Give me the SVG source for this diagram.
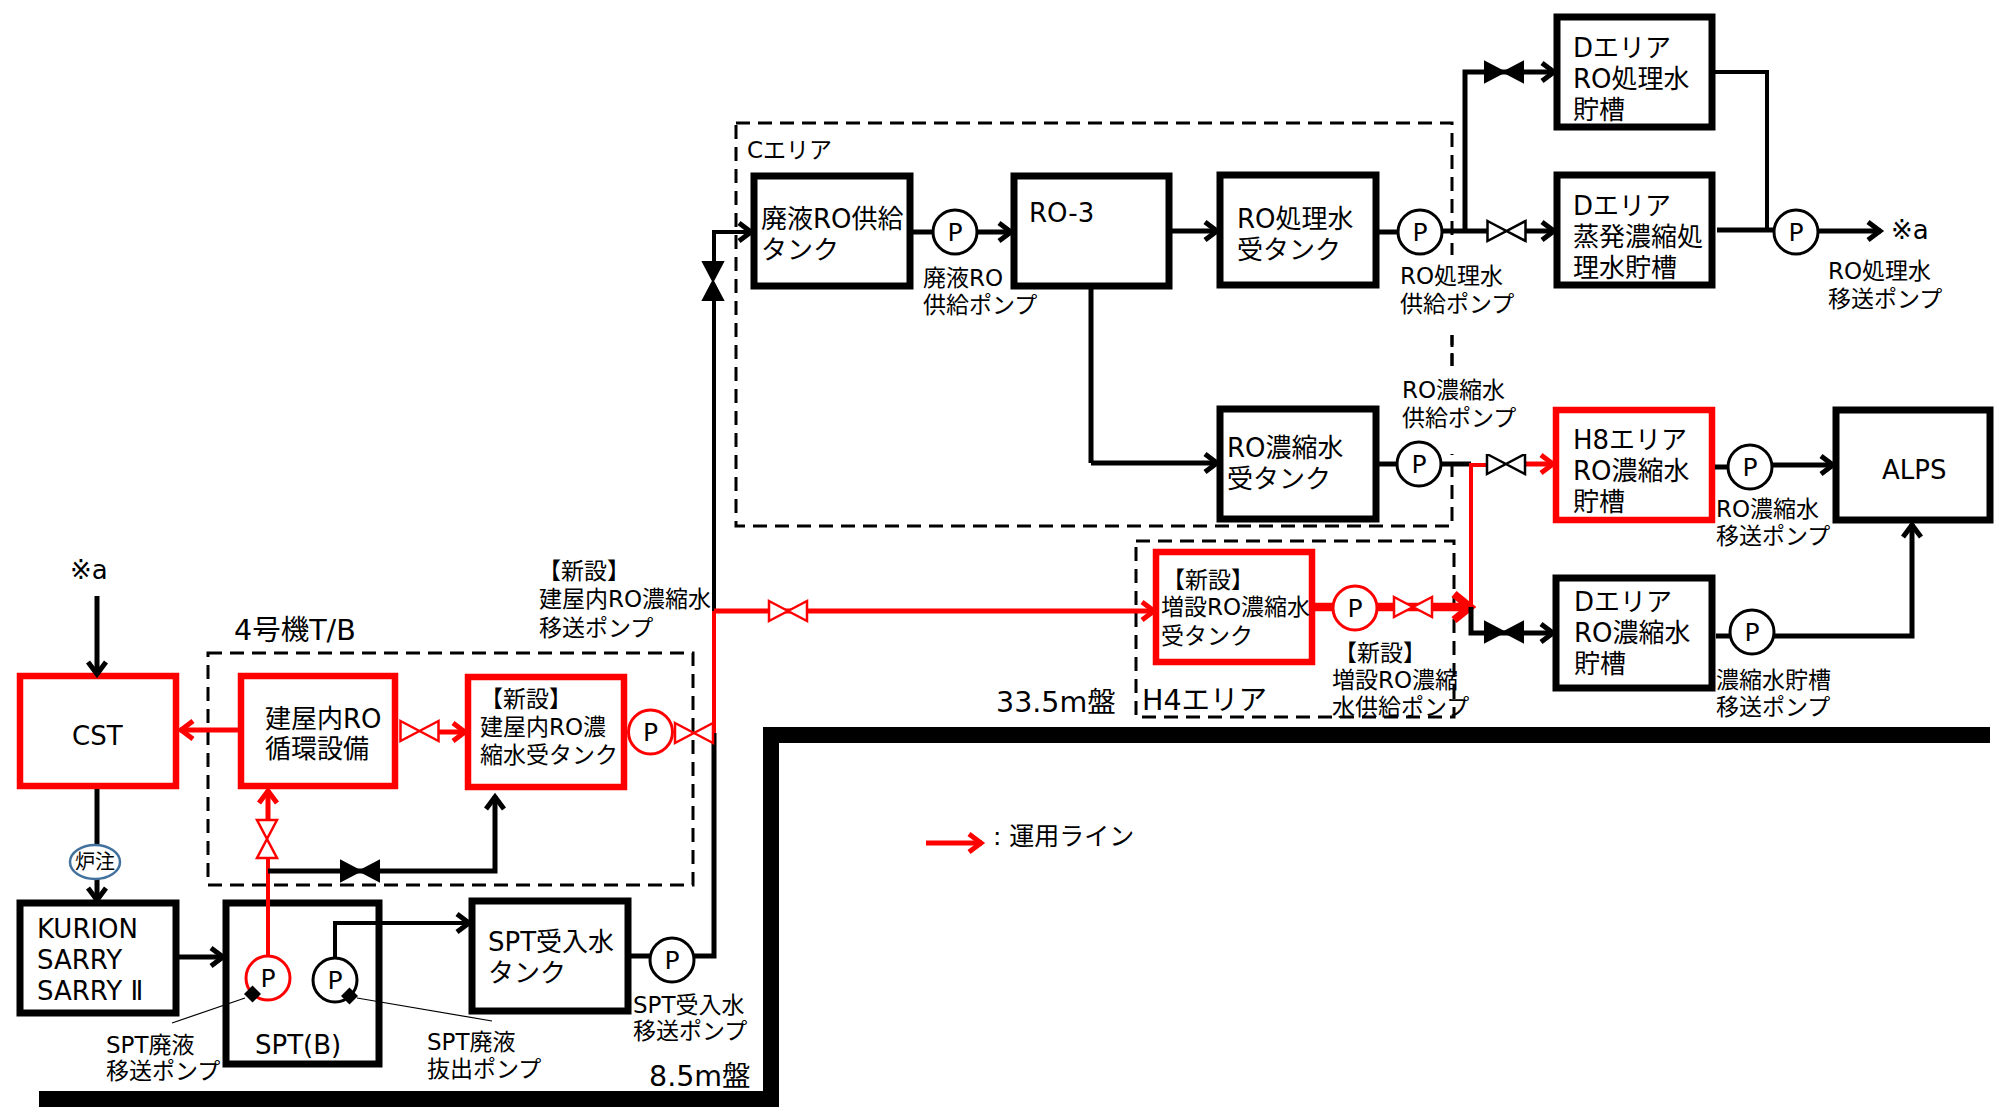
<svg xmlns="http://www.w3.org/2000/svg" width="1999" height="1112" viewBox="0 0 1999 1112">
<style>
text{font-family:"DejaVu Sans","Noto Sans CJK JP",sans-serif;fill:#000;}
.t26{font-size:26px}.t23{font-size:23px}.t28{font-size:28.5px}.t25{font-size:25px}
.p{font-size:25px;text-anchor:middle}
.box{fill:#fff;stroke:#000;stroke-width:7}
.rbox{fill:#fff;stroke:#f00;stroke-width:6.5}
.dash{fill:none;stroke:#000;stroke-width:3;stroke-dasharray:14 8}
.k{fill:none;stroke:#000;stroke-width:5}
.k4{fill:none;stroke:#000;stroke-width:4}
.r{fill:none;stroke:#f00;stroke-width:5}
.r3{fill:none;stroke:#f00;stroke-width:4}
.rt{fill:none;stroke:#f00;stroke-width:8.5}
.ah{marker-end:url(#ak)}
.ahr{marker-end:url(#ar)}
.ahR{marker-end:url(#aR)}
.vk{fill:#000;stroke:#000;stroke-width:2}
.vo{fill:#fff;stroke:#000;stroke-width:2.5}
.vr{fill:#fff;stroke:#f00;stroke-width:2.5}
.pk{fill:#fff;stroke:#000;stroke-width:3}
.pr{fill:#fff;stroke:#f00;stroke-width:3}
.lead{stroke:#000;stroke-width:1.2;fill:none}
</style>
<defs>
<marker id="ak" markerUnits="userSpaceOnUse" markerWidth="30" markerHeight="30" refX="22" refY="15" orient="auto"><path d="M9,6 L21,15 L9,24" fill="none" stroke="#000" stroke-width="5"/></marker>
<marker id="ar" markerUnits="userSpaceOnUse" markerWidth="30" markerHeight="30" refX="22" refY="15" orient="auto"><path d="M9,6 L21,15 L9,24" fill="none" stroke="#f00" stroke-width="5"/></marker>
<marker id="aR" markerUnits="userSpaceOnUse" markerWidth="40" markerHeight="40" refX="32" refY="20" orient="auto"><path d="M14,7 L30,20 L14,33" fill="none" stroke="#f00" stroke-width="8"/></marker>
<path id="valve" d="M-19,-10 L19,10 V-10 L-19,10 Z"/>
</defs>
<rect width="1999" height="1112" fill="#fff"/>

<path id="ground" d="M39,1099 H771 V735 H1990" fill="none" stroke="#000" stroke-width="16"/>

<g id="area-c"><rect class="dash" x="736" y="123" width="716" height="403"/><text class="t23" x="747" y="158">Cエリア</text></g>
<g id="area-h4"><rect class="dash" x="1136" y="541" width="318" height="176"/><text class="t28" x="1142" y="710">H4エリア</text></g>
<g id="area-4tb"><rect class="dash" x="208" y="653" width="485" height="232"/><text class="t28" x="234" y="640">4号機T/B</text></g>

<g id="cst"><rect class="rbox" x="20" y="676" width="156" height="110"/><text class="t26" x="72" y="745">CST</text></g>
<g id="ro-circ"><rect class="rbox" x="241" y="676" width="154" height="110"/><text class="t26" x="265" y="728">建屋内RO</text><text class="t26" x="265" y="758">循環設備</text></g>
<g id="ro-tank-new"><rect class="rbox" x="468" y="677" width="156" height="110"/><text class="t23" x="480" y="707">【新設】</text><text class="t23" x="480" y="735">建屋内RO濃</text><text class="t23" x="480" y="763">縮水受タンク</text></g>
<g id="kurion"><rect class="box" x="20" y="903" width="156" height="110"/><text class="t26" x="37" y="938">KURION</text><text class="t26" x="37" y="969">SARRY</text><text class="t26" x="37" y="1000">SARRY Ⅱ</text></g>
<g id="spt-b"><rect class="box" x="226" y="903" width="153" height="161"/><text class="t26" x="255" y="1054">SPT(B)</text></g>
<g id="spt-tank"><rect class="box" x="472" y="901" width="156" height="110"/><text class="t26" x="488" y="951">SPT受入水</text><text class="t26" x="488" y="982">タンク</text></g>
<g id="waste-ro-tank"><rect class="box" x="754" y="176" width="156" height="110"/><text class="t26" x="761" y="228">廃液RO供給</text><text class="t26" x="761" y="259">タンク</text></g>
<g id="ro-3"><rect class="box" x="1014" y="176" width="155" height="110"/><text class="t26" x="1029" y="222">RO-3</text></g>
<g id="ro-treated-tank"><rect class="box" x="1220" y="175" width="156" height="110"/><text class="t26" x="1237" y="228">RO処理水</text><text class="t26" x="1237" y="259">受タンク</text></g>
<g id="ro-conc-tank"><rect class="box" x="1220" y="409" width="156" height="110"/><text class="t26" x="1227" y="457">RO濃縮水</text><text class="t26" x="1227" y="488">受タンク</text></g>
<g id="d-ro"><rect class="box" x="1557" y="17" width="155" height="110"/><text class="t26" x="1573" y="57">Dエリア</text><text class="t26" x="1573" y="88">RO処理水</text><text class="t26" x="1573" y="119">貯槽</text></g>
<g id="d-evap"><rect class="box" x="1557" y="175" width="155" height="110"/><text class="t26" x="1573" y="215">Dエリア</text><text class="t26" x="1573" y="246">蒸発濃縮処</text><text class="t26" x="1573" y="277">理水貯槽</text></g>
<g id="h8"><rect class="rbox" x="1556" y="410" width="156" height="110"/><text class="t26" x="1573" y="449">H8エリア</text><text class="t26" x="1573" y="480">RO濃縮水</text><text class="t26" x="1573" y="511">貯槽</text></g>
<g id="alps"><rect class="box" x="1836" y="410" width="154" height="110"/><text class="t26" x="1882" y="479">ALPS</text></g>
<g id="d-conc"><rect class="box" x="1556" y="578" width="156" height="110"/><text class="t26" x="1574" y="611">Dエリア</text><text class="t26" x="1574" y="642">RO濃縮水</text><text class="t26" x="1574" y="673">貯槽</text></g>
<g id="h4-tank"><rect class="rbox" x="1156" y="552" width="156" height="110"/><text class="t23" x="1162" y="588">【新設】</text><text class="t23" x="1161" y="615">増設RO濃縮水</text><text class="t23" x="1161" y="644">受タンク</text></g>

<g id="connectors">
<path class="k ah" d="M97,596 V675"/>
<path class="k" d="M97,789 V845"/>
<path class="k ah" d="M97,878 V901"/>
<path class="k ah" d="M179,957 H224"/>
<path class="r3" d="M268,957 V857"/>
<path class="r ahr" d="M268,821 V790"/>
<path class="k ah" d="M268,871 H495 V796"/>
<path class="k4 ah" d="M335,958 V923 H470"/>
<path class="r ahr" d="M238,730 H180"/>
<path class="r ahr" d="M439,732 H466"/>
<path class="k" d="M631,956 H650 M694,956 H714 V733"/>
<path class="r3" d="M714,733 V611"/>
<path class="k4" d="M714,611 V300"/>
<path class="k4 ah" d="M714,262 V232 H752"/>
<path class="r ahr" d="M714,611 H1155"/>
<path class="k" d="M912,232 H933"/>
<path class="k ah" d="M977,232 H1012"/>
<path class="k ah" d="M1172,231 H1218"/>
<path class="k" d="M1378,232 H1398"/>
<path class="k" d="M1442,231 H1488"/>
<path class="k ah" d="M1525,231 H1555"/>
<path class="k ah" d="M1465,231 V72 H1555"/>
<path class="k" d="M1091,288 V463"/>
<path class="k ah" d="M1091,463 H1218"/>
<path class="k4" d="M1715,72 H1767 V231"/>
<path class="k" d="M1717,230 H1773"/>
<path class="k ah" d="M1819,231 H1881"/>
<path class="k" d="M1378,464 H1397"/>
<path class="k" d="M1441,464 H1471"/>
<path class="r3" d="M1471,465 H1488 M1471,463 V607"/>
<path class="r ahr" d="M1525,464 H1554"/>
<path class="rt" d="M1315,607 H1333"/>
<path class="rt ahR" d="M1377,607 H1472"/>
<path class="k ah" d="M1471,607 V633 H1554"/>
<path class="k" d="M1715,467 H1728"/>
<path class="k ah" d="M1772,465 H1834"/>
<path class="k" d="M1716,636 H1730"/>
<path class="k ah" d="M1774,636 H1912 V524"/>
<path class="lead" d="M245,998 L172,1023"/>
<path class="lead" d="M357,998 L492,1021"/>
<path d="M926,843 H982" class="r ahr"/>
</g>

<g id="valves">
<use href="#valve" class="vr" transform="translate(419.5,731)"/>
<use href="#valve" class="vr" transform="translate(694,733)"/>
<use href="#valve" class="vr" transform="translate(267,839) rotate(90)"/>
<use href="#valve" class="vk" transform="translate(360,871)"/>
<use href="#valve" class="vk" transform="translate(713,281) rotate(90)"/>
<use href="#valve" class="vr" transform="translate(788,611)"/>
<use href="#valve" class="vk" transform="translate(1504,72)"/>
<use href="#valve" class="vo" transform="translate(1506.5,231)"/>
<use href="#valve" class="vo" transform="translate(1506,464)"/>
<use href="#valve" class="vr" transform="translate(1413,607)"/>
<use href="#valve" class="vk" transform="translate(1504,632)"/>
</g>

<g id="label-ro-treated-pump"><rect x="1445" y="255" width="90" height="80" fill="#fff"/><path d="M1452,335 V366" fill="none" stroke="#000" stroke-width="3" stroke-dasharray="12 7"/><text class="t23" x="1400" y="284">RO処理水</text><text class="t23" x="1400" y="312">供給ポンプ</text></g>
<g id="label-ro-conc-pump"><rect x="1445" y="366" width="90" height="88" fill="#fff"/><text class="t23" x="1402" y="398">RO濃縮水</text><text class="t23" x="1402" y="426">供給ポンプ</text></g>

<g id="pump-waste-ro"><circle class="pk" cx="955" cy="232" r="22"/><text class="p" x="955" y="241">P</text></g>
<g id="pump-ro-treated"><circle class="pk" cx="1420" cy="232" r="22"/><text class="p" x="1420" y="241">P</text></g>
<g id="pump-ro-conc"><circle class="pk" cx="1419" cy="464" r="22"/><text class="p" x="1419" y="473">P</text></g>
<g id="pump-ro-transfer"><circle class="pk" cx="1796" cy="232" r="22"/><text class="p" x="1796" y="241">P</text></g>
<g id="pump-h8"><circle class="pk" cx="1750" cy="467" r="22"/><text class="p" x="1750" y="476">P</text></g>
<g id="pump-d-conc"><circle class="pk" cx="1752" cy="632" r="22"/><text class="p" x="1752" y="641">P</text></g>
<g id="pump-h4"><circle class="pr" cx="1355" cy="608" r="22"/><text class="p" x="1355" y="617">P</text></g>
<g id="pump-ro-new"><circle class="pr" cx="650.5" cy="732" r="22"/><text class="p" x="650.5" y="741">P</text></g>
<g id="pump-spt-recv"><circle class="pk" cx="672" cy="960" r="22"/><text class="p" x="672" y="969">P</text></g>
<g id="pump-spt-red"><circle class="pr" cx="268" cy="978" r="22"/><text class="p" x="268" y="987">P</text></g>
<g id="pump-spt-black"><circle class="pk" cx="335" cy="980" r="22"/><text class="p" x="335" y="989">P</text></g>
<rect x="246.5" y="988" width="12" height="12" fill="#000" transform="rotate(45 252.5 994)"/>
<rect x="343.5" y="990" width="12" height="12" fill="#000" transform="rotate(45 349.5 996)"/>

<g id="core-injection"><ellipse cx="95" cy="862" rx="25" ry="17" fill="#fff" stroke="#41719c" stroke-width="2.5"/><text x="95" y="869" font-size="20" text-anchor="middle">炉注</text></g>

<g id="labels">
<text class="t26" x="70" y="579">※a</text>
<text class="t26" x="1891" y="239">※a</text>
<text class="t23" x="538" y="579">【新設】</text>
<text class="t23" x="539" y="607">建屋内RO濃縮水</text>
<text class="t23" x="539" y="636">移送ポンプ</text>
<text class="t23" x="923" y="286">廃液RO</text>
<text class="t23" x="923" y="313">供給ポンプ</text>
<text class="t23" x="1828" y="279">RO処理水</text>
<text class="t23" x="1828" y="307">移送ポンプ</text>
<text class="t23" x="1716" y="517">RO濃縮水</text>
<text class="t23" x="1716" y="544">移送ポンプ</text>
<text class="t23" x="1716" y="688">濃縮水貯槽</text>
<text class="t23" x="1716" y="715">移送ポンプ</text>
<text class="t23" x="1334" y="661">【新設】</text>
<text class="t23" x="1332" y="688">増設RO濃縮</text>
<text class="t23" x="1332" y="715">水供給ポンプ</text>
<text class="t28" x="996" y="712">33.5m盤</text>
<text class="t28" x="649" y="1086">8.5m盤</text>
<text class="t23" x="633" y="1013">SPT受入水</text>
<text class="t23" x="633" y="1039">移送ポンプ</text>
<text class="t23" x="106" y="1053">SPT廃液</text>
<text class="t23" x="106" y="1079">移送ポンプ</text>
<text class="t23" x="427" y="1050">SPT廃液</text>
<text class="t23" x="427" y="1077">抜出ポンプ</text>
<text class="t25" x="993" y="845">: 運用ライン</text>
</g>
</svg>
